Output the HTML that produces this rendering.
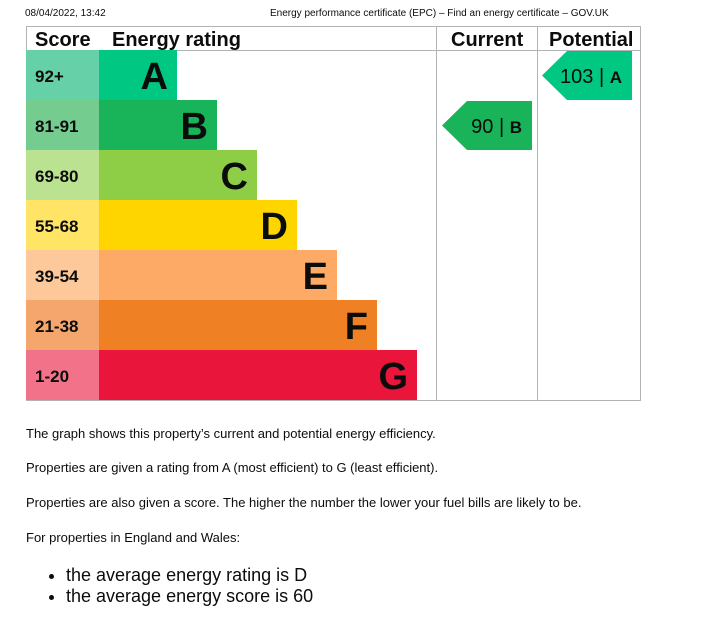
<!DOCTYPE html>
<html><head><meta charset="utf-8"><style>
body{margin:0;background:#fff;font-family:"Liberation Sans",Arial,sans-serif;color:#0b0c0c}
.p{position:absolute;left:26px;font-size:13px;margin:0}
</style></head><body>
<div style="position:relative;width:727px;height:621px;overflow:hidden">
<div style="position:absolute;left:25px;top:8px;font-size:10px">08/04/2022, 13:42</div>
<div style="position:absolute;left:270px;top:8px;font-size:10px">Energy performance certificate (EPC) – Find an energy certificate – GOV.UK</div>
<svg id="chart" width="727" height="410" style="position:absolute;left:0;top:0" font-family="Liberation Sans, Arial, sans-serif"></svg>
<p class="p" style="top:426px">The graph shows this property’s current and potential energy efficiency.</p>
<p class="p" style="top:460px">Properties are given a rating from A (most efficient) to G (least efficient).</p>
<p class="p" style="top:495px">Properties are also given a score. The higher the number the lower your fuel bills are likely to be.</p>
<p class="p" style="top:530px">For properties in England and Wales:</p>
<ul style="position:absolute;left:26px;top:565px;margin:0;padding-left:40px;font-size:18px;line-height:21px">
<li>the average energy rating is D</li>
<li>the average energy score is 60</li>
</ul>
</div>
<script>
const bands=["A","B","C","D","E","F","G"];
const ranges=["92+","81-91","69-80","55-68","39-54","21-38","1-20"];
const bandColors=["#00c781","#19b459","#8dce46","#ffd500","#fcaa65","#ef8023","#e9153b"];
const scoreColors=["#66d1a8","#75cc8f","#bbe290","#ffe466","#fdc89a","#f5a66d","#f27389"];
const currentScore=90, currentBand="B";
const potentialScore=103, potentialBand="A";
const NS="http://www.w3.org/2000/svg";
const svg=document.getElementById('chart');
function el(t,a,txt){const e=document.createElementNS(NS,t);for(const k in a)e.setAttribute(k,a[k]);if(txt!=null)e.textContent=txt;svg.appendChild(e);return e;}
const top0=50,rowH=50,left=26,scoreW=73,barX=99,barBase=78,barStep=40;
const rowY=i=>top0+i*rowH;
// frame
let f=el('rect',{x:26.5,y:26.5,width:614,height:374,fill:'none',stroke:'#b1b4b6'});

let l1=el('line',{x1:26,y1:50.5,x2:641,y2:50.5,stroke:'#b1b4b6'});

[436.5,537.5].forEach(x=>{let l=el('line',{x1:x,y1:26,x2:x,y2:401,stroke:'#b1b4b6'});
});
const hdr=[["Score",35],["Energy rating",112],["Current",451],["Potential",549]];
hdr.forEach(h=>{let t=el('text',{x:h[1],y:46,'font-size':20,'font-weight':'bold',fill:'#0b0c0c'},h[0]);
});
bands.forEach((b,i)=>{
 const y=rowY(i);
 let s=el('rect',{x:left,y:y,width:scoreW,height:rowH,fill:scoreColors[i]});
 
 let st=el('text',{x:35,y:y+32,'font-size':17,'font-weight':'bold',fill:'#0b0c0c'},ranges[i]);
 
 const w=barBase+i*barStep;
 let r=el('rect',{x:barX,y:y,width:w,height:rowH,fill:bandColors[i]});
 
 let lt=el('text',{x:barX+w-9,y:y+39,'font-size':38,'font-weight':'bold','text-anchor':'end',fill:'#0b0c0c'},b);
 
});
function arrow(x0,score,band,name){
 const i=bands.indexOf(band),y=rowY(i)+1,h=rowH-1,w=90,tip=25;
 let p=el('polygon',{points:`${x0},${y+h/2} ${x0+tip},${y} ${x0+w},${y} ${x0+w},${y+h} ${x0+tip},${y+h}`,fill:bandColors[i]});
 
 let t=el('text',{x:x0+w-10,y:y+32,'font-size':20,'text-anchor':'end',fill:'#0b0c0c'});
 
 t.innerHTML=`${score} | <tspan font-weight="bold" font-size="17">${band}</tspan>`;
}
arrow(442,currentScore,currentBand,'current');
arrow(542,potentialScore,potentialBand,'potential');
</script>
</body></html>
